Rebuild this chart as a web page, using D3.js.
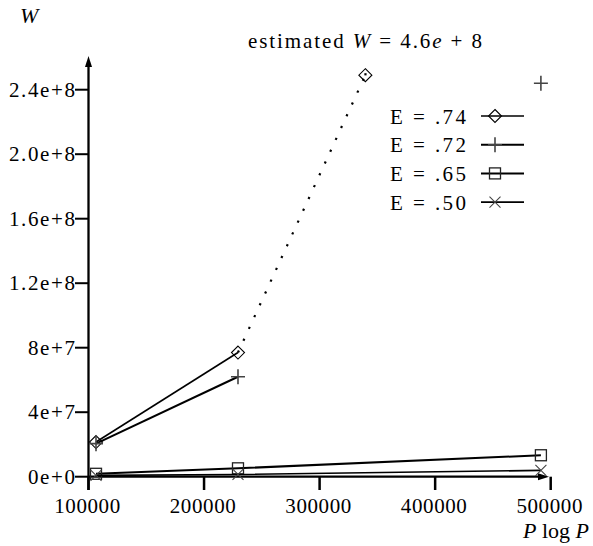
<!DOCTYPE html>
<html><head><meta charset="utf-8">
<script src="https://cdn.jsdelivr.net/npm/d3@7"></script>
<style>
body{margin:0;background:#fff;}
text{font-family:"Liberation Serif","Times New Roman",serif;fill:#000;}
</style></head><body>
<svg id="c" width="593" height="546"></svg>
<script>
// ---- data ----
const xTicks = [100000, 200000, 300000, 400000, 500000];
const yTicks = [0, 4e7, 8e7, 1.2e8, 1.6e8, 2.0e8, 2.4e8];
const yTickLabels = ["0e+0", "4e+7", "8e+7", "1.2e+8", "1.6e+8", "2.0e+8", "2.4e+8"];
const pLogP = [106496, 229376, 491520];
const e74 = [2.15e7, 7.7e7];
const e74Estimated = [[229376, 7.7e7], [339600, 2.49e8]];
const e72 = [2.05e7, 6.2e7];
const e72Extra = [[491520, 2.44e8]];
const e65 = [1.8e6, 5.2e6, 1.33e7];
const e50 = [0.8e6, 1.4e6, 3.9e6];
const legendLabels = ["E = .74", "E = .72", "E = .65", "E = .50"];

const svg = d3.select("#c");
const x = d3.scaleLinear().domain([100000, 500000]).range([88.5, 550.7]);
const y = d3.scaleLinear().domain([0, 2.4e8]).range([476.7, 89.7]);

// axes lines
const axisG = svg.append("g");
axisG.append("line").attr("x1", x(100000)).attr("x2", x(100000)).attr("y1", 490).attr("y2", 62)
  .attr("stroke", "#000").attr("stroke-width", 2.3);
axisG.append("path").attr("d", `M${x(100000)-3.5},67 L${x(100000)},56 L${x(100000)+3.5},67 Z`).attr("fill", "#000");
axisG.append("line").attr("x1", x(100000)).attr("x2", 543).attr("y1", y(0)).attr("y2", y(0))
  .attr("stroke", "#000").attr("stroke-width", 2.3);
axisG.append("path").attr("d", `M538,${y(0)-3.5} L549,${y(0)} L538,${y(0)+3.5} Z`).attr("fill", "#000");

// y ticks
yTicks.forEach((t, i) => {
  axisG.append("line").attr("x1", 75).attr("x2", x(100000)).attr("y1", y(t)).attr("y2", y(t))
    .attr("stroke", "#000").attr("stroke-width", 2);
  axisG.append("text").attr("x", 76.5).attr("y", y(t) + 7).attr("text-anchor", "end")
    .attr("font-size", 21).attr("letter-spacing", 1.6).text(yTickLabels[i]);
});
// x ticks
xTicks.forEach(t => {
  axisG.append("line").attr("x1", x(t)).attr("x2", x(t)).attr("y1", y(0)).attr("y2", 490)
    .attr("stroke", "#000").attr("stroke-width", 2.5);
  axisG.append("text").attr("x", x(t) - 1).attr("y", 513).attr("text-anchor", "middle")
    .attr("font-size", 21).attr("letter-spacing", 0.6).text(d3.format("d")(t));
});

// axis labels
svg.append("text").attr("x", 20).attr("y", 23).attr("font-size", 22).attr("font-style", "italic").text("W");
const pl = svg.append("text").attr("x", 523).attr("y", 538).attr("font-size", 22);
pl.append("tspan").attr("font-style", "italic").text("P");
pl.append("tspan").text(" log ");
pl.append("tspan").attr("font-style", "italic").text("P");

// title
const tt = svg.append("text").attr("x", 248).attr("y", 48).attr("font-size", 21)
  .attr("textLength", 234).attr("lengthAdjust", "spacing");
tt.append("tspan").text("estimated ");
tt.append("tspan").attr("font-style", "italic").text("W");
tt.append("tspan").text(" = 4.6");
tt.append("tspan").attr("font-style", "italic").text("e");
tt.append("tspan").text(" + 8");

const line = d3.line().x(d => x(d[0])).y(d => y(d[1]));
const series = [
  {vals: e74, w: 1.6, m: "diamond"},
  {vals: e72, w: 2, m: "plus"},
  {vals: e65, w: 2, m: "square"},
  {vals: e50, w: 1.6, m: "cross"}
];

function marker(g, type, cx, cy) {
  if (type === "diamond") {
    g.append("path").attr("d", `M${cx},${cy-6.5} L${cx+6.5},${cy} L${cx},${cy+6.5} L${cx-6.5},${cy} Z`)
      .attr("fill", "none").attr("stroke", "#000").attr("stroke-width", 1.1);
  } else if (type === "plus") {
    g.append("path").attr("d", `M${cx-7},${cy} L${cx+7},${cy} M${cx},${cy-7.5} L${cx},${cy+7.5}`)
      .attr("fill", "none").attr("stroke", "#444").attr("stroke-width", 1.6);
  } else if (type === "square") {
    g.append("rect").attr("x", cx - 5.5).attr("y", cy - 5.5).attr("width", 11).attr("height", 11)
      .attr("fill", "none").attr("stroke", "#222").attr("stroke-width", 1.3);
  } else if (type === "cross") {
    g.append("path").attr("d", `M${cx-5.5},${cy-5.5} L${cx+5.5},${cy+5.5} M${cx+5.5},${cy-5.5} L${cx-5.5},${cy+5.5}`)
      .attr("fill", "none").attr("stroke", "#444").attr("stroke-width", 1.1);
  }
}

const plotG = svg.append("g");
series.forEach(s => {
  const pts = s.vals.map((v, i) => [pLogP[i], v]);
  plotG.append("path").attr("d", line(pts)).attr("fill", "none").attr("stroke", "#000").attr("stroke-width", s.w);
  pts.forEach(p => marker(plotG, s.m, x(p[0]), y(p[1])));
});
// estimated dotted
plotG.append("path").attr("d", line(e74Estimated)).attr("fill", "none").attr("stroke", "#000")
  .attr("stroke-width", 2.2).attr("stroke-dasharray", "2.2 10.8");
marker(plotG, "diamond", x(e74Estimated[1][0]), y(e74Estimated[1][1]));
plotG.append("rect").attr("x", x(e74Estimated[1][0]) - 1).attr("y", y(e74Estimated[1][1]) - 2).attr("width", 2.2).attr("height", 2.2);
e72Extra.forEach(p => marker(plotG, "plus", x(p[0]), y(p[1])));

// legend
const legG = svg.append("g");
legendLabels.forEach((lab, i) => {
  const ly = 116 + i * 28.7;
  legG.append("text").attr("x", 390).attr("y", ly + 7.5).attr("font-size", 21)
    .attr("textLength", 76).attr("lengthAdjust", "spacing").text(lab);
  legG.append("line").attr("x1", 481).attr("x2", 524).attr("y1", ly).attr("y2", ly)
    .attr("stroke", "#000").attr("stroke-width", series[i].w);
  marker(legG, series[i].m, 495, ly);
});
</script>
</body></html>
